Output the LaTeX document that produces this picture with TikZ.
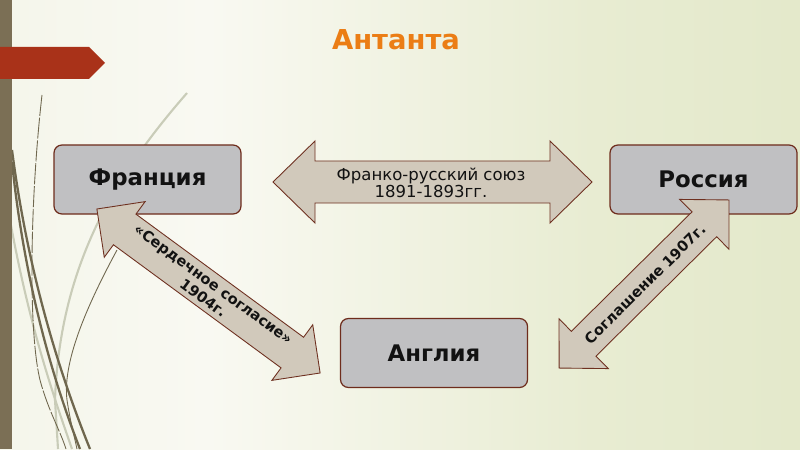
\documentclass[tikz,border=0pt]{standalone}
\usepackage{fontspec}
\setmainfont{DejaVu Sans}
\definecolor{bgA}{HTML}{ECEFDC}
\definecolor{bgB}{HTML}{F9F9F2}
\definecolor{bgC}{HTML}{E8ECD2}
\definecolor{bgD}{HTML}{DBE3BD}
\definecolor{barcol}{HTML}{7B6F55}
\definecolor{bannercol}{HTML}{A93219}
\definecolor{titlecol}{HTML}{EB7D15}
\definecolor{boxfill}{HTML}{C0C0C2}
\definecolor{boxline}{HTML}{6E2C1C}
\definecolor{arrfill}{HTML}{D1C9BB}
\definecolor{arrline}{HTML}{6E3020}
\definecolor{stemdark}{HTML}{6F674E}
\definecolor{stemlight}{HTML}{C9CCB8}
\pgfdeclarehorizontalshading{bgsh}{100bp}{color(0bp)=(bgA); color(38bp)=(bgB); color(62bp)=(bgC); color(100bp)=(bgD)}
\tikzset{
  country/.style={draw=boxline, line width=0.7pt, fill=boxfill, rounded corners=4.5pt,
    minimum width=187*0.02cm, minimum height=69*0.02cm, inner sep=0pt,
    font=\fontsize{13pt}{15pt}\selectfont\bfseries, text=black!93},
  blockarrow/.style={draw=arrline, line width=0.5pt, fill=arrfill},
  arrowtext/.style={align=center, inner sep=0pt, text=black!93},
  stem/.style={draw=stemdark, line width=1.3pt},
  stemthin/.style={draw=stemdark, line width=0.5pt},
  stemfaint/.style={draw=stemlight, line width=1.2pt}
}
% #1 centre, #2 angle, #3 half length, #4 head length, #5 head half width, #6 shaft half width
\newcommand\blockdblarrow[6]{%
  \begin{scope}[shift={#1}, rotate=#2]
    \path[blockarrow] (-#3,0) -- (-#3+#4,-#5) -- (-#3+#4,-#6) -- (#3-#4,-#6) -- (#3-#4,-#5)
      -- (#3,0) -- (#3-#4,#5) -- (#3-#4,#6) -- (-#3+#4,#6) -- (-#3+#4,#5) -- cycle;
  \end{scope}}
\begin{document}
\begin{tikzpicture}[x=0.02cm, y=-0.02cm]
\useasboundingbox (0,0) rectangle (800,449);
\shade[shading=bgsh] (0,0) rectangle (800,449);
% decorative stems
\path[stemfaint] (187,93) .. controls (120,170) and (60,260) .. (55,400) -- (58,449);
\path[stemfaint] (10,220) .. controls (30,330) and (55,400) .. (72,449);
\path[stemthin, dash pattern=on 12pt off 1pt] (42,95) .. controls (30,200) and (28,330) .. (40,380) .. controls (48,410) and (60,430) .. (66,449);
\path[stem] (12,150) .. controls (25,250) and (50,350) .. (90,449);
\path[stem] (12,162) .. controls (22,260) and (45,360) .. (80,449);
\path[stemthin] (117,250) .. controls (90,300) and (62,360) .. (67,400) .. controls (70,420) and (74,435) .. (77,449);
% left bar and banner
\fill[barcol] (0,0) rectangle (12,449);
\fill[bannercol] (0,47) -- (89,47) -- (105,63) -- (89,79) -- (0,79) -- cycle;
% title
\node[text=titlecol, font=\fontsize{15.6pt}{18pt}\selectfont\bfseries] (title) at (396,40) {Антанта};
% countries
\node[country] (france) at (147.5,179.5) {Франция};
\node[country] (russia) at (703.5,179.5) {Россия};
\node[country] (england) at (434,353) {Англия};
% block arrows
\blockdblarrow{(432.5,182)}{0}{159.5}{42}{41}{21}
\node[arrowtext, font=\fontsize{9.4pt}{9.6pt}\selectfont] (fr-ru) at (431,183) {Франко-русский союз\\1891-1893гг.};
\blockdblarrow{(208.5,291)}{-36.3}{138.5}{34.5}{34.5}{19}
\node[arrowtext, rotate=-36.3, font=\fontsize{8.3pt}{9.6pt}\selectfont\bfseries] (fr-en) at (208.5,291) {«Сердечное согласие»\\1904г.};
\blockdblarrow{(644,284)}{44.7}{119.5}{34.6}{35}{17.5}
\node[arrowtext, rotate=44.7, font=\fontsize{8.3pt}{9.6pt}\selectfont\bfseries] (ru-en) at (645,284) {Соглашение 1907г.};
\end{tikzpicture}
\end{document}
